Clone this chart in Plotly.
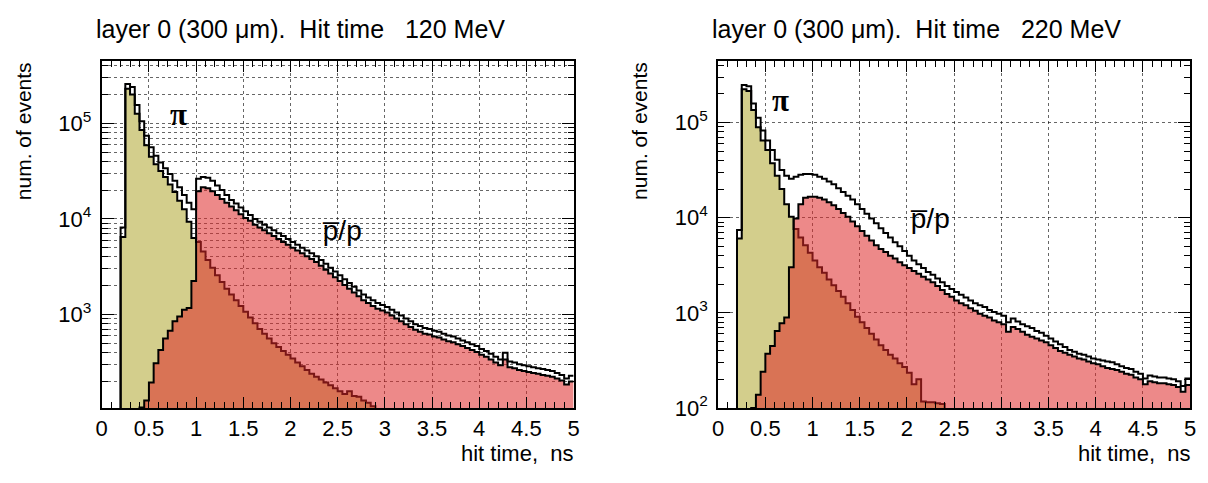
import plotly.graph_objects as go

# ---------------- data (counts per 0.05 ns bin) ----------------
BIN_W = 0.05
N_BINS = 100
x_ticks = [0, 0.5, 1, 1.5, 2, 2.5, 3, 3.5, 4, 4.5, 5]
y_tickvals = [1e2, 1e3, 1e4, 1e5]
y_ticktext = ["10<sup>2</sup>", "10<sup>3</sup>", "10<sup>4</sup>", "10<sup>5</sup>"]

# ---- 120 MeV ----
pi_120_start = 0.20
pi_120 = [6460, 229000, 200000, 126000, 85100, 58900, 44700, 37200, 31600, 27500,
          22900, 19100, 15500, 12600, 9330, 6310, 5750, 4570, 3720, 3090,
          2570, 2190, 1860, 1620, 1410, 1230, 1070, 933, 813, 708,
          631, 562, 501, 457, 417, 380, 347, 316, 288, 263,
          240, 224, 209, 195, 182, 170, 158, 148, 158, 141,
          138, 126, 120, 110]
p_120_start = 0.40
p_120 = [107, 126, 195, 309, 427, 562, 676, 851, 955, 1120,
         1170, 2240, 19500, 21400, 20900, 19500, 17800, 16200, 14800, 13500,
         12300, 11200, 10200, 9550, 8710, 8130, 7590, 7080, 6610, 6170,
         5750, 5370, 5010, 4680, 4370, 4070, 3800, 3550, 3240, 2950,
         2690, 2450, 2240, 2040, 1860, 1700, 1550, 1410, 1320, 1230,
         1150, 1100, 1050, 977, 912, 851, 794, 741, 692, 661,
         631, 617, 589, 575, 550, 525, 513, 490, 468, 447,
         427, 407, 380, 363, 339, 316, 295, 339, 282, 275,
         263, 257, 251, 245, 240, 234, 229, 224, 214, 204,
         186, 200]
tot_120_start = 0.20
tot_120 = [8130, 257000, 240000, 155000, 105000, 74100, 56200, 45700, 38900, 33900,
           29500, 25100, 21400, 17800, 14800, 12600, 26300, 27500, 26900, 25100,
           22400, 20000, 17800, 15800, 14500, 13200, 12000, 11000, 10000, 9330,
           8710, 8130, 7590, 7080, 6610, 6170, 5750, 5370, 5010, 4680,
           4370, 4070, 3720, 3390, 3090, 2820, 2570, 2340, 2140, 1950,
           1780, 1620, 1510, 1410, 1320, 1260, 1200, 1120, 1050, 977,
           912, 851, 794, 759, 724, 708, 676, 661, 631, 603,
           589, 562, 537, 513, 490, 468, 437, 417, 389, 363,
           339, 398, 324, 316, 302, 295, 288, 282, 275, 269,
           263, 257, 245, 234, 214, 229]

# ---- 220 MeV ----
pi_220_start = 0.20
pi_220 = [6030, 224000, 214000, 135000, 89100, 64600, 51300, 37200, 27500, 20000,
          13800, 10200, 7590, 6170, 5130, 4270, 3550, 3020, 2630, 2240,
          1950, 1700, 1480, 1260, 1070, 912, 794, 692, 603, 525,
          457, 407, 363, 331, 295, 269, 234, 178, 200, 117,
          115, 115, 112, 110]
p_220_start = 0.35
p_220 = [100, 138, 240, 372, 447, 646, 776, 891, 3020, 9770,
         13800, 16200, 16600, 16600, 16200, 15500, 14500, 13500, 12300, 11200,
         10200, 9120, 8130, 7240, 6460, 5750, 5130, 4680, 4370, 3980,
         3720, 3390, 3160, 2950, 2750, 2570, 2400, 2240, 2090, 1910,
         1740, 1580, 1480, 1350, 1260, 1200, 1120, 1050, 977, 933,
         891, 832, 794, 759, 631, 708, 676, 631, 589, 562,
         537, 513, 490, 457, 427, 398, 380, 363, 347, 331,
         324, 309, 295, 288, 275, 263, 257, 251, 240, 229,
         224, 209, 200, 178, 191, 186, 182, 182, 178, 174,
         166, 148, 174]
tot_220_start = 0.20
tot_220 = [7410, 248000, 240000, 158000, 112000, 82200, 64600, 51300, 40700, 31600,
           27500, 25700, 26900, 28200, 28800, 28800, 28200, 26900, 25700, 24000,
           22400, 20400, 18600, 17000, 15500, 13800, 12300, 11000, 9770, 8710,
           7760, 6920, 6170, 5500, 5010, 4470, 3980, 3550, 3240, 2950,
           2690, 2510, 2290, 2090, 1910, 1780, 1660, 1550, 1450, 1350,
           1260, 1200, 1150, 1070, 1020, 977, 933, 794, 871, 813,
           759, 724, 692, 646, 617, 575, 537, 501, 468, 437,
           407, 389, 372, 363, 347, 331, 324, 316, 309, 302,
           288, 275, 263, 257, 240, 229, 204, 219, 214, 209,
           209, 204, 200, 191, 170, 204]

# ---------------- helpers ----------------
W, H = 1208, 483
edges = [round(i * BIN_W, 4) for i in range(N_BINS + 1)]
FLOOR = 1.0  # empty bins drawn below the visible log range


def full_hist(start, vals):
    k = int(round(start / BIN_W))
    arr = [0.0] * N_BINS
    for i, v in enumerate(vals):
        arr[k + i] = v
    return arr


def step(vals, xa, ya, fillcolor=None, lw=2.0, color="black"):
    y = [max(v, FLOOR) for v in vals]
    y = y + [y[-1]]
    return go.Scatter(
        x=edges, y=y, mode="lines", xaxis=xa, yaxis=ya,
        line=dict(shape="hv", color=color, width=lw),
        fill="tozeroy" if fillcolor else "none",
        fillcolor=fillcolor, hoverinfo="skip", showlegend=False,
    )


OLIVE = "rgb(211,206,140)"
RED = "rgba(222,40,40,0.55)"

fig = go.Figure()
panels = [
    ("x", "y", pi_120_start, pi_120, p_120_start, p_120, tot_120_start, tot_120),
    ("x2", "y2", pi_220_start, pi_220, p_220_start, p_220, tot_220_start, tot_220),
]
for xa, ya, ps, pv, qs, qv, ts, tv in panels:
    fig.add_trace(step(full_hist(ps, pv), xa, ya, fillcolor=OLIVE))
    fig.add_trace(step(full_hist(qs, qv), xa, ya, fillcolor=RED))
    fig.add_trace(step(full_hist(ts, tv), xa, ya))

FONT = "Liberation Sans, Arial, sans-serif"
GRID = "rgba(0,0,0,0.6)"


def xaxis(domain, anchor):
    return dict(
        domain=domain, anchor=anchor, range=[0, 5],
        tickmode="array", tickvals=x_ticks,
        ticks="inside", ticklen=11, tickwidth=1, tickcolor="black",
        mirror="allticks", showline=True, linecolor="black", linewidth=2,
        showgrid=True, gridcolor=GRID, griddash="dot", gridwidth=1,
        zeroline=False, tickfont=dict(family=FONT, size=22, color="black"),
        minor=dict(dtick=0.1, tick0=0, ticks="inside", ticklen=6,
                   tickwidth=1, tickcolor="black", showgrid=False),
        layer="above traces", fixedrange=True,
    )


minor_vals = [m * 10 ** e for e in range(1, 6) for m in range(2, 10)]


def yaxis(domain, anchor, rng, minor_grid):
    return dict(
        domain=domain, anchor=anchor, type="log", range=rng,
        tickmode="array", tickvals=y_tickvals, ticktext=y_ticktext,
        ticks="inside", ticklen=12, tickwidth=1, tickcolor="black",
        mirror="allticks", showline=True, linecolor="black", linewidth=2,
        showgrid=True, gridcolor=GRID, griddash="dot", gridwidth=1,
        zeroline=False, tickfont=dict(family=FONT, size=22, color="black"),
        ticklabelstandoff=4,
        minor=dict(tickmode="array", tickvals=minor_vals, ticks="inside",
                   ticklen=6, tickwidth=1, tickcolor="black",
                   showgrid=minor_grid, gridcolor=GRID, griddash="dot",
                   gridwidth=1),
        layer="above traces", fixedrange=True,
    )


ydom = [1 - 419.3 / H, 1 - 62.3 / H]
fig.update_layout(
    width=W, height=H, margin=dict(l=0, r=0, t=0, b=0),
    paper_bgcolor="white", plot_bgcolor="white",
    font=dict(family=FONT, color="black"),
    xaxis=xaxis([96.7 / W, 573.3 / W], "y"),
    yaxis=yaxis(ydom, "x", [2.023, 5.655], True),
    xaxis2=xaxis([719.3 / W, 1196 / W], "y2"),
    yaxis2=yaxis(ydom, "x2", [2.0, 5.65], False),
)

NB = "\u00a0"
titles = [
    (89, "layer 0 (300 μm)." + NB * 2 + "Hit time" + NB * 3 + "120 MeV"),
    (711, "layer 0 (300 μm)." + NB * 2 + "Hit time" + NB * 3 + "220 MeV"),
]
for px, txt in titles:
    fig.add_annotation(text=txt, xref="paper", yref="paper", x=px / W, y=1 - 30 / H,
                       xanchor="left", yanchor="middle", showarrow=False,
                       font=dict(family=FONT, size=25, color="black"))

for px in (18, 640):
    fig.add_annotation(text="num. of events", xref="paper", yref="paper",
                       x=px / W, y=1 - 62 / H, xanchor="center", yanchor="top",
                       textangle=-90, showarrow=False,
                       font=dict(family=FONT, size=21, color="black"))
for px in (575, 1198):
    fig.add_annotation(text="hit time," + NB * 2 + "ns", xref="paper", yref="paper",
                       x=px / W, y=1 - 466 / H, xanchor="right", yanchor="middle",
                       showarrow=False, font=dict(family=FONT, size=22, color="black"))

# particle labels (data coordinates; log axes take log10)
PI_FONT = dict(family="Liberation Serif, serif", size=31, color="black")
fig.add_annotation(text="<b>π</b>", xref="x", yref="y", x=0.815, y=5.09,
                   showarrow=False, font=PI_FONT)
fig.add_annotation(text="<b>π</b>", xref="x2", yref="y2", x=0.665, y=5.23,
                   showarrow=False, font=PI_FONT)
fig.add_annotation(text="p\u0305/p", xref="x", yref="y", x=2.55, y=3.88, showarrow=False,
                   font=dict(family=FONT, size=28, color="black"))
fig.add_annotation(text="p\u0305/p", xref="x2", yref="y2", x=2.24, y=3.99, showarrow=False,
                   font=dict(family=FONT, size=28, color="black"))

fig.write_html("out.html")
